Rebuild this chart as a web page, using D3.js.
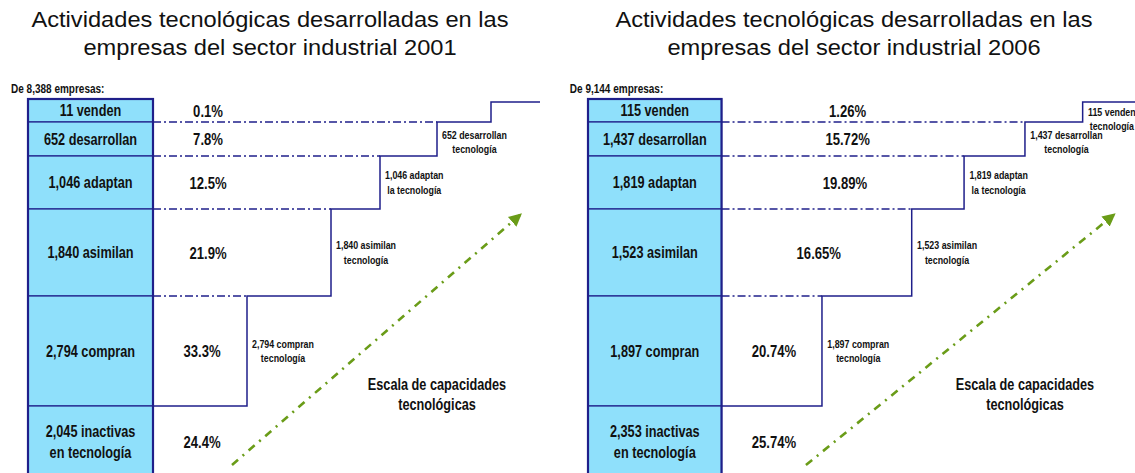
<!DOCTYPE html>
<html>
<head>
<meta charset="utf-8">
<script src="https://cdn.jsdelivr.net/npm/d3@7"></script>
<style>
  body { margin: 0; background: #fff; }
  svg { display: block; }
  .nb { font-family: "Liberation Sans", Arial, sans-serif; font-weight: bold; fill: #111; }
  .title { font-family: "Liberation Sans", Arial, sans-serif; font-size: 21.5px; fill: #111; }
</style>
</head>
<body>
<div id="chart"></div>
<script>
// ---- data ----
const years = [2001, 2006];
const totals = [8388, 9144];
const groups = ["venden", "desarrollan", "adaptan", "asimilan", "compran", "inactivas"];
const boxText = ["venden", "desarrollan", "adaptan", "asimilan", "compran", "inactivas|en tecnología"];
const stepText = ["venden|tecnología", "desarrollan|tecnología", "adaptan|la tecnología", "asimilan|tecnología", "compran|tecnología", null];
const counts2001 = [11, 652, 1046, 1840, 2794, 2045];
const counts2006 = [115, 1437, 1819, 1523, 1897, 2353];
const pct2001 = [0.1, 7.8, 12.5, 21.9, 33.3, 24.4];
const pct2006 = [1.26, 15.72, 19.89, 16.65, 20.74, 25.74];
const pctDigits = [1, 2];
const hiddenSteps = [["venden"], []];

// ---- layout (same template for both panels) ----
const W = 1135, H = 473;
const navy = "#1f1f8a", boxFill = "#8fe0fb", green = "#6a9c18";
const squeeze = 0.77;                                 // narrow bold look
const rowUnits = [23, 34, 53, 87, 110, 72];          // row heights of the template
const stepUnits = [125, 94, 84, 49, 57, 54, 49];     // box width, then each stair step
const panels = [
  {x0: 28, x1: 540, titleX: 270, pctCap: 180},
  {x0: 588, x1: 1135, titleX: 854, pctCap: 243}
];

const rowCum = [0, ...d3.cumsum(rowUnits)];
const stepCum = d3.cumsum(stepUnits);
const y = d3.scaleLinear().domain([0, d3.sum(rowUnits)]).range([99, 478]);
const rowTop = i => y(rowCum[i]);
const rowBot = i => y(rowCum[i + 1]);
const rowMid = i => (rowTop(i) + rowBot(i)) / 2;
// stair edge (template units) for row i: row 4 -> first step, row 0 -> fifth step
const edge = i => stepCum[5 - i];

// condensed bold multi-line text at (x, y); anchor "block" = centred lines starting at x
function narrow(sel, size, lh, anchor) {
  sel.attr("transform", d => `translate(${d.x},${d.y}) scale(${squeeze},1)`);
  sel.append("text").attr("class", "nb")
    .style("font-size", size + "px")
    .attr("text-anchor", anchor === "start" ? "start" : "middle")
    .each(function(d) {
      const t = d3.select(this);
      d.lines.forEach((s, k) => {
        t.append("tspan").attr("x", 0)
          .attr("y", (k - (d.lines.length - 1) / 2) * lh)
          .attr("dy", "0.36em").text(s);
      });
      if (anchor === "block") {
        const w = d3.max(t.selectAll("tspan").nodes(), n => n.getComputedTextLength());
        t.selectAll("tspan").attr("x", w / 2);
      }
    });
}

const svg = d3.select("#chart").append("svg")
  .attr("width", W).attr("height", H);

svg.append("defs").append("marker")
  .attr("id", "head")
  .attr("viewBox", "0 0 10 10")
  .attr("refX", 8).attr("refY", 5)
  .attr("markerWidth", 5).attr("markerHeight", 5)
  .attr("orient", "auto")
  .append("path").attr("d", "M0,0L10,5L0,10Z").attr("fill", green);

years.forEach((year, p) => {
  const cfg = panels[p];
  const counts = p === 0 ? counts2001 : counts2006;
  const pcts = p === 0 ? pct2001 : pct2006;
  const x = d3.scaleLinear().domain([0, stepCum[stepCum.length - 1]]).range([cfg.x0, cfg.x1]);
  const g = svg.append("g");
  const fmt = d3.format(",");
  const pfmt = d3.format("." + pctDigits[p] + "f");

  // title
  ["Actividades tecnológicas desarrolladas en las", "empresas del sector industrial " + year].forEach((s, k) => {
    g.append("g").attr("transform", `translate(${cfg.titleX},${27 + k * 28}) scale(1.1,1)`)
      .append("text").attr("class", "title")
      .attr("text-anchor", "middle").text(s);
  });

  g.selectAll(".tot").data([{x: x(-17), y: 88, lines: ["De " + fmt(totals[p]) + " empresas:"]}])
    .join("g").call(narrow, 13, 0, "start");

  // dash-dot separators right of the box
  g.selectAll(".sep").data(d3.range(4)).join("line")
    .attr("x1", x(stepUnits[0])).attr("x2", i => x(edge(i + 1)))
    .attr("y1", i => rowBot(i)).attr("y2", i => rowBot(i))
    .attr("stroke", navy).attr("stroke-width", 1.3)
    .attr("stroke-dasharray", "8,3,2,3");

  // staircase
  const pts = [[x(stepUnits[0]), rowBot(4)]];
  for (let i = 4; i >= 0; i--) {
    pts.push([x(edge(i)), rowBot(i)]);
    pts.push([x(edge(i)), i === 0 ? rowTop(0) + 3 : rowTop(i)]);
  }
  pts.push([x(stepCum[stepCum.length - 1]), rowTop(0) + 3]);
  g.append("path")
    .attr("d", d3.line()(pts))
    .attr("fill", "none").attr("stroke", navy).attr("stroke-width", 1.5);

  // box rows
  g.selectAll(".row").data(groups).join("rect")
    .attr("x", x(0)).attr("width", x(stepUnits[0]) - x(0))
    .attr("y", (d, i) => rowTop(i)).attr("height", (d, i) => rowBot(i) - rowTop(i))
    .attr("fill", boxFill).attr("stroke", navy).attr("stroke-width", 1.2);
  g.append("rect")
    .attr("x", x(0)).attr("width", x(stepUnits[0]) - x(0))
    .attr("y", rowTop(0)).attr("height", rowBot(5) - rowTop(0))
    .attr("fill", "none").attr("stroke", navy).attr("stroke-width", 2.2);

  // box labels
  const boxLab = groups.map((d, i) => {
    const lines = boxText[i].split("|");
    lines[0] = fmt(counts[i]) + " " + lines[0];
    return {x: x(stepUnits[0] / 2), y: rowMid(i), lines};
  });
  g.selectAll(".blab").data(boxLab).join("g").call(narrow, 16.5, 21);

  // percentages
  const pctLab = pcts.map((v, i) => ({
    x: x(Math.min(cfg.pctCap, (stepUnits[0] + edge(Math.min(i, 4))) / 2 + 2)),
    y: rowMid(i),
    lines: [pfmt(v) + "%"]
  }));
  g.selectAll(".plab").data(pctLab).join("g").call(narrow, 17, 0);

  // stair labels, just right of each riser
  const stepLab = groups.slice(0, 5)
    .filter(d => !hiddenSteps[p].includes(d))
    .map(d => {
      const i = groups.indexOf(d);
      const lines = stepText[i].split("|");
      lines[0] = fmt(counts[i]) + " " + lines[0];
      return {x: x(edge(i) + 5), y: Math.max(rowMid(i), rowTop(i) + 20), lines};
    });
  g.selectAll(".slab").data(stepLab).join("g").call(narrow, 11.5, 14.5, "block");

  // capability arrow
  g.append("line")
    .attr("x1", x(204)).attr("y1", 465)
    .attr("x2", x(492)).attr("y2", 215)
    .attr("stroke", green).attr("stroke-width", 2.6)
    .attr("stroke-dasharray", "8,6,2,6")
    .attr("marker-end", "url(#head)");

  g.selectAll(".esc").data([{x: x(409), y: 394, lines: ["Escala de capacidades", "tecnológicas"]}])
    .join("g").call(narrow, 16.5, 20.5);
});
</script>
</body>
</html>
